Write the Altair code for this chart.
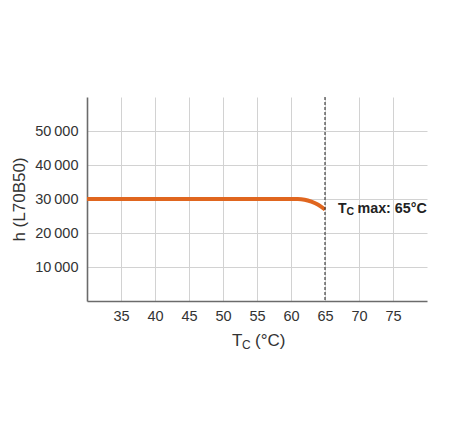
import altair as alt
import pandas as pd

# ---- data ----
temps = [30, 60, 61, 62, 63, 64, 65]
hours = [30000, 30000, 30000, 29800, 29200, 28300, 26900]
x_ticks = [35, 40, 45, 50, 55, 60, 65, 70, 75]
y_ticks = [10000, 20000, 30000, 40000, 50000]
tc_max = 65
ann_main = "max: 65°C"

FONT = "Liberation Sans"
TXT = "#333333"

df = pd.DataFrame({"T": temps, "h": hours})
rule_df = pd.DataFrame({"T": [tc_max]})
ann_df = pd.DataFrame({"T": [tc_max], "h": [hours[-1]]})

x_enc = alt.X("T:Q", scale=alt.Scale(domain=[30, 80], nice=False),
              axis=alt.Axis(values=x_ticks, title=None, grid=True, gridColor="#d2d2d2",
                            gridWidth=1, domainColor="#6b6b6b", domainWidth=1.6,
                            ticks=False, labelPadding=8, labelFontSize=14.5,
                            labelColor=TXT, labelFont=FONT))
y_enc = alt.Y("h:Q", scale=alt.Scale(domain=[0, 60000], nice=False),
              axis=alt.Axis(values=y_ticks, title="h (L70B50)", grid=True,
                            gridColor="#d2d2d2", gridWidth=1, domainColor="#6b6b6b",
                            domainWidth=1.6, ticks=False, labelPadding=9,
                            labelFontSize=14.5, labelColor=TXT, labelFont=FONT,
                            labelExpr="replace(format(datum.value, ','), ',', '\u2009')",
                            titleFontSize=17, titleFontWeight="normal", titleColor=TXT,
                            titleFont=FONT, titlePadding=6))

line = alt.Chart(df).mark_line(color="#e0661f", strokeWidth=4,
                               interpolate="monotone").encode(x=x_enc, y=y_enc)

rule = alt.Chart(rule_df).mark_rule(color="#333333", strokeWidth=1.1,
                                    strokeDash=[3, 2]).encode(x="T:Q")

ann_T = alt.Chart(ann_df).mark_text(text="T", align="left", baseline="alphabetic",
                                    dx=13, dy=3, fontSize=14, fontWeight="bold",
                                    font=FONT, color="#222222").encode(x="T:Q", y="h:Q")
ann_C = alt.Chart(ann_df).mark_text(text="C", align="left", baseline="alphabetic",
                                    dx=21.5, dy=5.5, fontSize=10.5, fontWeight="bold",
                                    font=FONT, color="#222222").encode(x="T:Q", y="h:Q")
ann_M = alt.Chart(ann_df).mark_text(text=ann_main, align="left", baseline="alphabetic",
                                    dx=32.5, dy=3, fontSize=14.3, fontWeight="bold",
                                    font=FONT, color="#222222").encode(x="T:Q", y="h:Q")

one = pd.DataFrame({"k": [0]})
xt_T = alt.Chart(one).mark_text(text="T", align="left", baseline="alphabetic",
                                fontSize=17, font=FONT, color=TXT).encode(
    x=alt.value(145), y=alt.value(249))
xt_C = alt.Chart(one).mark_text(text="C", align="left", baseline="alphabetic",
                                fontSize=12, font=FONT, color=TXT).encode(
    x=alt.value(155), y=alt.value(252))
xt_U = alt.Chart(one).mark_text(text="(°C)", align="left", baseline="alphabetic",
                                fontSize=17, font=FONT, color=TXT).encode(
    x=alt.value(168), y=alt.value(249))

chart = alt.layer(line, rule, ann_T, ann_C, ann_M, xt_T, xt_C, xt_U).properties(
    width=340, height=204,
    autosize=alt.AutoSizeParams(type="none"),
    padding={"left": 79, "top": 89, "right": 15, "bottom": 128},
    background="white",
).configure_view(stroke=None)

chart.save("out.html", embed_options={"renderer": "svg", "actions": False})
